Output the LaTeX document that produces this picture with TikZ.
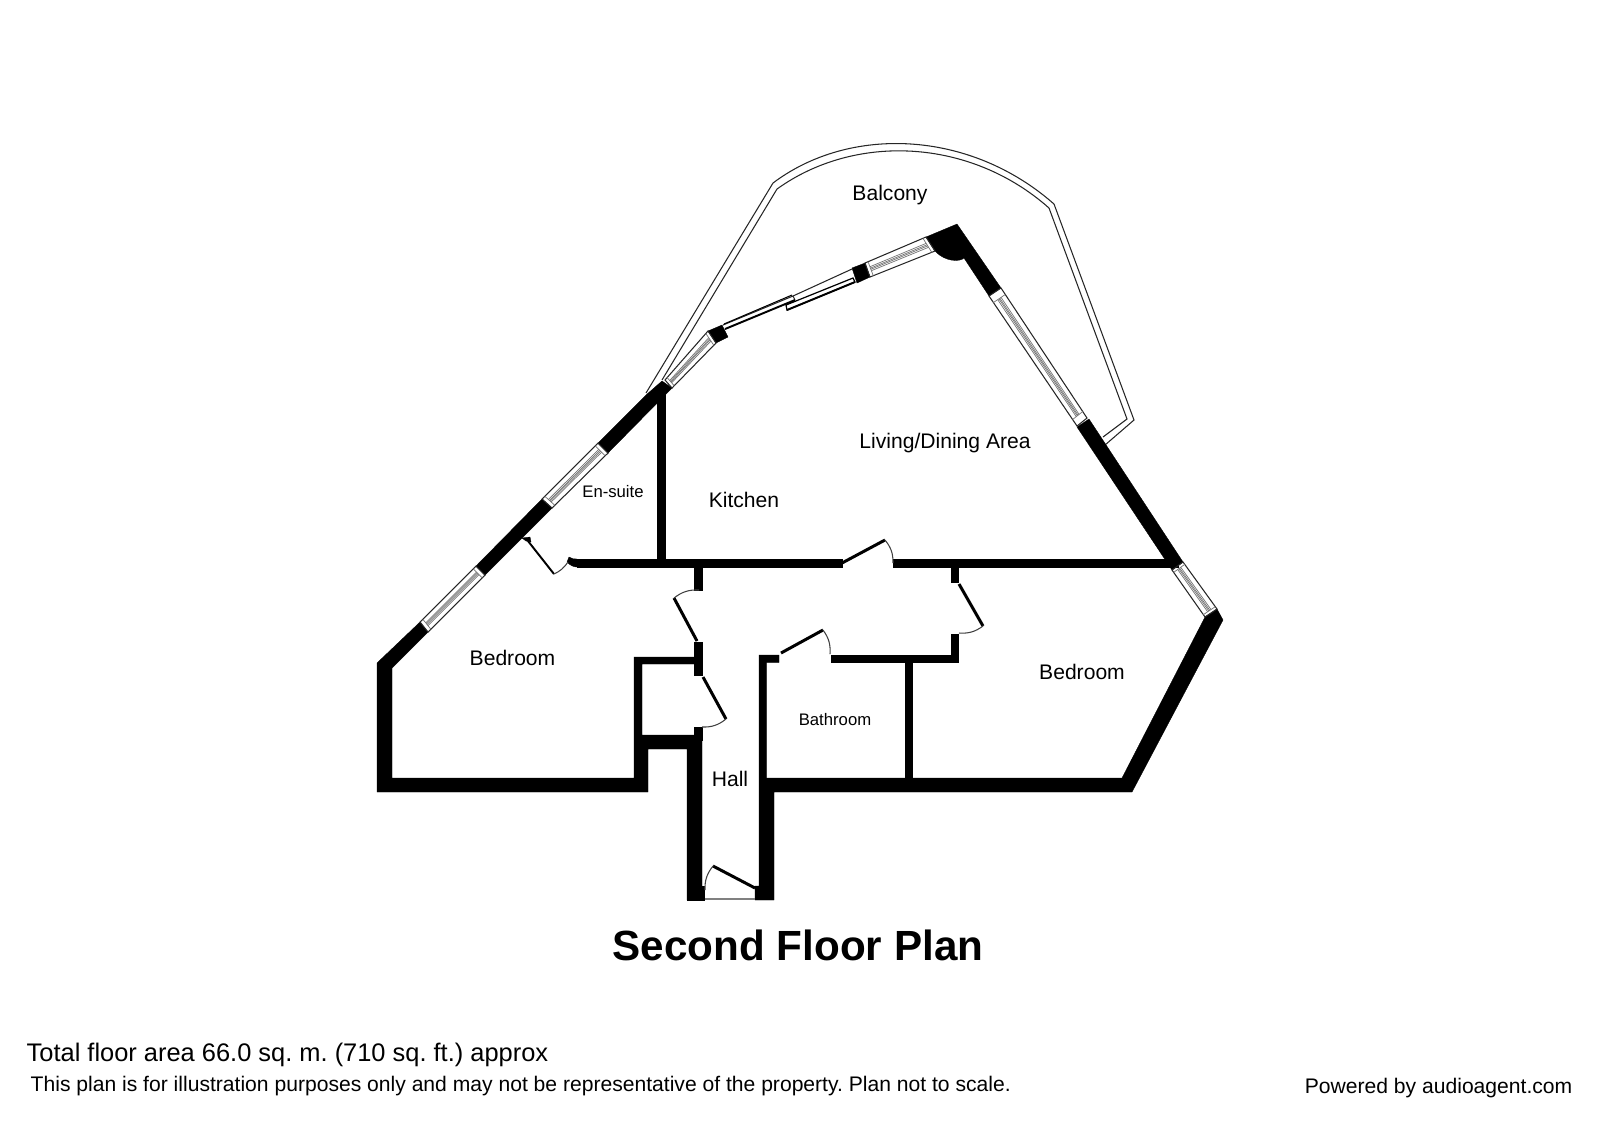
\documentclass[tikz,border=0pt]{standalone}
\usepackage{fontspec}
\setmainfont{Liberation Sans}
\usetikzlibrary{calc}
\tikzset{
  wall/.style={fill=black,draw=black,line width=0.1pt},
  leaf/.style={line width=0.85pt,line cap=butt},
  swing/.style={line width=0.3pt,black!75},
  thinline/.style={line width=0.3pt,black!85},
  paneline/.style={line width=0.2pt,black!55},
  room/.style={font=\fontsize{6}{7}\selectfont,inner sep=0pt},
  smallroom/.style={font=\fontsize{4.75}{6}\selectfont,inner sep=0pt},
  foot/.style={font=\fontsize{6}{7}\selectfont,inner sep=0pt}
}
% window between two wall ends
\newcommand{\glaze}[4]{
  \draw[thinline] (#1) -- (#2) -- (#3) -- (#4) -- cycle;
  \foreach \f in {0.36,0.46,0.54,0.64} {
    \coordinate (p) at ($(#1)!\f!(#2)$);
    \coordinate (q) at ($(#4)!\f!(#3)$);
    \draw[paneline] ($(p)!0.05!(q)$) -- ($(q)!0.05!(p)$);
  }
  \coordinate (p) at ($(#1)!0.05!(#4)$);
  \coordinate (q) at ($(#2)!0.05!(#3)$);
  \draw[paneline] (p) -- (q);
  \coordinate (p) at ($(#4)!0.05!(#1)$);
  \coordinate (q) at ($(#3)!0.05!(#2)$);
  \draw[paneline] (p) -- (q);
}
\begin{document}
\frenchspacing
\begin{tikzpicture}[x=0.01cm,y=-0.01cm]
  \useasboundingbox (0,0) rectangle (1600,1120);
  % balcony
  \draw[thinline] (646,393) -- (773,183) .. controls (850,125) and (970,130) .. (1054,204)
    -- (1134,420) -- (1105,445);
  \draw[thinline] (662,380) -- (777,189) .. controls (855,133) and (970,138) .. (1049,208)
    -- (1127,419) -- (1103,437);
  % outer walls
  \fill[wall] (662,381) -- (672,388) -- (608,453) -- (598,443) -- (646,395) -- cycle;
  \fill[wall] (542,499) -- (552,508) -- (485,575) -- (476,566) -- cycle;
  \fill[wall] (420,622) -- (428,632) -- (392,668) -- (392,778) -- (634,778) -- (634,657)
    -- (694,657) -- (694,664) -- (642,664) -- (642,735) -- (702,735) -- (702,900) -- (687,900)
    -- (687,749) -- (648,749) -- (648,792) -- (377,792) -- (377,663) -- cycle;
  \fill[wall] (926,237) -- (957,224) -- (1001,288) -- (989,296) -- (964,258)
    .. controls (960,262) and (945,262) .. (935,251) -- cycle;
  \fill[wall] (1077,427) -- (1089,419) -- (1183,562) -- (1172,570) -- cycle;
  \fill[wall] (1205,617) -- (1217,609) -- (1223,620) -- (1132,792) -- (774,792)
    -- (774,900) -- (755,900) -- (755,886) -- (759,886) -- (759,655) -- (779,655)
    -- (779,662.5) -- (766.5,662.5) -- (766.5,778) -- (1122,778) -- cycle;
  % piers
  \fill[wall] (852,268) -- (865,263) -- (870,277) -- (857,283) -- cycle;
  \fill[wall] (708,331) -- (722,325) -- (728,337) -- (716,343) -- cycle;
  \fill[wall] (687,886) rectangle (704,900);
  % inner walls
  \fill[wall] (657,390) rectangle (665,560);
  \fill[wall] (577,559) rectangle (842,567);
  \fill[wall] (893,559) rectangle (1178,567);
  \fill[wall] (577,559) -- (577,567) .. controls (573,567) and (570,565) .. (567,562) -- (569,557) .. controls (572,559) and (574,559) .. (577,559) -- cycle;
  \fill[wall] (694,567) rectangle (702,590);
  \fill[wall] (694,642) rectangle (702,675);
  \fill[wall] (694,727) rectangle (702,740);
  \fill[wall] (831,655) rectangle (958,662.5);
  \fill[wall] (951,634) rectangle (958,662);
  \fill[wall] (951,565) rectangle (958,582);
  \fill[wall] (905,662) rectangle (912,778);
  \fill[wall] (522,538) -- (530,537) -- (531,542) -- (526,541) -- cycle;
  % windows
  \glaze{665,380}{672,388}{716,343}{708,331}
  \glaze{598,443}{608,453}{552,508}{542,499}
  \glaze{476,566}{485,575}{428,632}{420,622}
  \glaze{926,237}{935,251}{870,277}{865,263}
  \glaze{989,296}{1001,288}{1087,418}{1077,426}
  \glaze{1172,570}{1183,562}{1217,609}{1205,617}
  % sliding door
  \draw[thinline] (793,296) -- (852,269);
  \draw[thinline] (723,325) -- (793,296) -- (795,300);
  \draw[line width=0.55pt] (725,329) -- (795,300);
  \draw[line width=0.3pt] (724,324) -- (792,295);
  \draw[line width=0.35pt] (786,305) -- (787,310) -- (855,282) -- (853,278) -- cycle;
  \draw[line width=0.55pt] (787,310) -- (855,282);
  % doors
  \draw[leaf] (842,563) -- (885,540);
  \draw[swing] (885,540) to[bend left=20] (893,563);
  \draw[leaf] (697,641) -- (674,598);
  \draw[swing] (674,598) to[bend left=20] (699,590);
  \draw[leaf] (703,677) -- (726,719);
  \draw[swing] (726,719) to[bend left=20] (702,727);
  \draw[leaf] (781,653) -- (823,630);
  \draw[swing] (823,630) to[bend left=20] (830,654);
  \draw[leaf] (959,584) -- (983,626);
  \draw[swing] (983,626) to[bend left=20] (959,633);
  \draw[leaf] (755,888) -- (713,866);
  \draw[swing] (713,866) to[bend right=20] (705,890);
  \draw[thinline,black!50] (705,899) -- (755,899);
  \draw[line width=0.55pt] (528,541) -- (554,574);
  \draw[swing] (554,574) to[bend right=15] (568,562);
  % labels
  \node[room] (balcony) at (890,195) {Balcony};
  \node[room] (living) at (945,443) {Living/Dining Area};
  \node[room] (kitchen) at (744,500) {Kitchen};
  \node[smallroom] (ensuite) at (613,492) {En-suite};
  \node[room] (bedroomA) at (512.5,658) {Bedroom};
  \node[room] (bedroomB) at (1082,672) {Bedroom};
  \node[smallroom] (bathroom) at (835,720) {Bathroom};
  \node[room] (hall) at (730,779) {Hall};
  \node[inner sep=0pt,font=\fontsize{12}{14}\selectfont\bfseries] (title) at (798,945) {Second Floor Plan};
  \node[foot,anchor=west,font=\fontsize{7.23}{8}\selectfont] (area) at (26,1055) {Total floor area 66.0 sq. m. (710 sq. ft.) approx};
  \node[foot,anchor=west] (note) at (30,1086) {This plan is for illustration purposes only and may not be representative of the property. Plan not to scale.};
  \node[foot,anchor=east] (powered) at (1573,1088) {Powered by audioagent.com};
\end{tikzpicture}
\end{document}
